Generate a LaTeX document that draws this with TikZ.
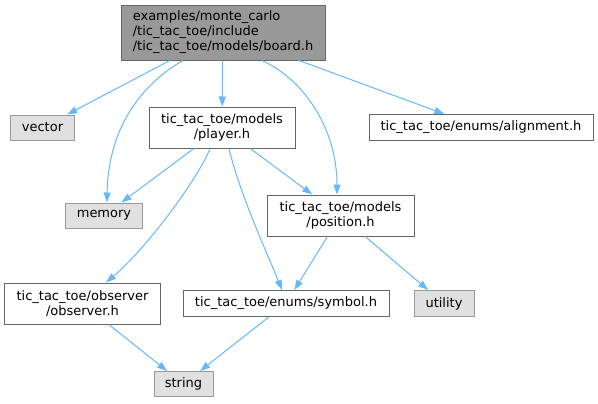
\documentclass[tikz,border=0pt]{standalone}
\usepackage{fontspec}
\setmainfont{DejaVu Sans}
\usetikzlibrary{arrows.meta}
\definecolor{edgeblue}{HTML}{63B8FF}
\definecolor{darkframe}{HTML}{666666}
\definecolor{lightframe}{HTML}{999999}
\definecolor{boardfill}{HTML}{999999}
\definecolor{sysfill}{HTML}{E0E0E0}
\begin{document}
\begin{tikzpicture}[
  x=1bp, y=-1bp,
  font=\fontsize{13bp}{15bp}\selectfont,
  header/.style={draw=darkframe, line width=1bp, align=center, inner sep=2bp},
  current/.style={header, fill=boardfill, align=left},
  system/.style={draw=lightframe, line width=1bp, fill=sysfill, align=center, inner sep=2bp},
  include/.style={-{Triangle[length=10bp,width=7bp]}, edgeblue, line width=1bp}
]
\useasboundingbox (0,0) rectangle (598,403);

\node[current, minimum width=204bp, minimum height=55bp] (board) at (223,32.5)
  {examples/monte\_carlo\\/tic\_tac\_toe/include\\/tic\_tac\_toe/models/board.h};

\node[system, minimum width=63bp, minimum height=25bp] (vector) at (42.5,127.5) {vector};
\node[header, minimum width=146bp, minimum height=41bp] (player) at (222,127.5)
  {tic\_tac\_toe/models\\/player.h};
\node[header, minimum width=224bp, minimum height=26bp] (alignment) at (481,127.5)
  {tic\_tac\_toe/enums/alignment.h};

\node[system, minimum width=77bp, minimum height=25bp] (memory) at (104,215.5) {memory};
\node[header, minimum width=147bp, minimum height=41bp] (position) at (340.5,215.5)
  {tic\_tac\_toe/models\\/position.h};

\node[header, minimum width=155bp, minimum height=41bp] (observer) at (82.5,303.5)
  {tic\_tac\_toe/observer\\/observer.h};
\node[header, minimum width=206bp, minimum height=26bp] (symbol) at (286,303.5)
  {tic\_tac\_toe/enums/symbol.h};
\node[system, minimum width=60bp, minimum height=26bp] (utility) at (444,303.5) {utility};

\node[system, minimum width=59bp, minimum height=25bp] (string) at (183.5,384) {string};

% board.h
\draw[include] (board) -- (vector);
\draw[include] (board) -- (player);
\draw[include] (board) -- (alignment);
\draw[include] ([xshift=-40bp]board.south) .. controls (140,85) and (108,130) .. ([xshift=3bp]memory.north);
\draw[include] ([xshift=39bp]board.south) .. controls (305,80) and (337,130) .. ([xshift=-3.5bp]position.north);

% player.h
\draw[include] (player) -- (memory);
\draw[include] (player) -- (position);
\draw[include] ([xshift=-12bp]player.south) .. controls (200,175) and (150,245) .. ([xshift=23.5bp]observer.north);
\draw[include] ([xshift=7bp]player.south) .. controls (240,195) and (268,255) .. ([xshift=-4bp]symbol.north);

% position.h
\draw[include] (position) -- (symbol);
\draw[include] (position) -- (utility);

% string
\draw[include] (observer) -- (string);
\draw[include] (symbol) -- (string);

\end{tikzpicture}
\end{document}
